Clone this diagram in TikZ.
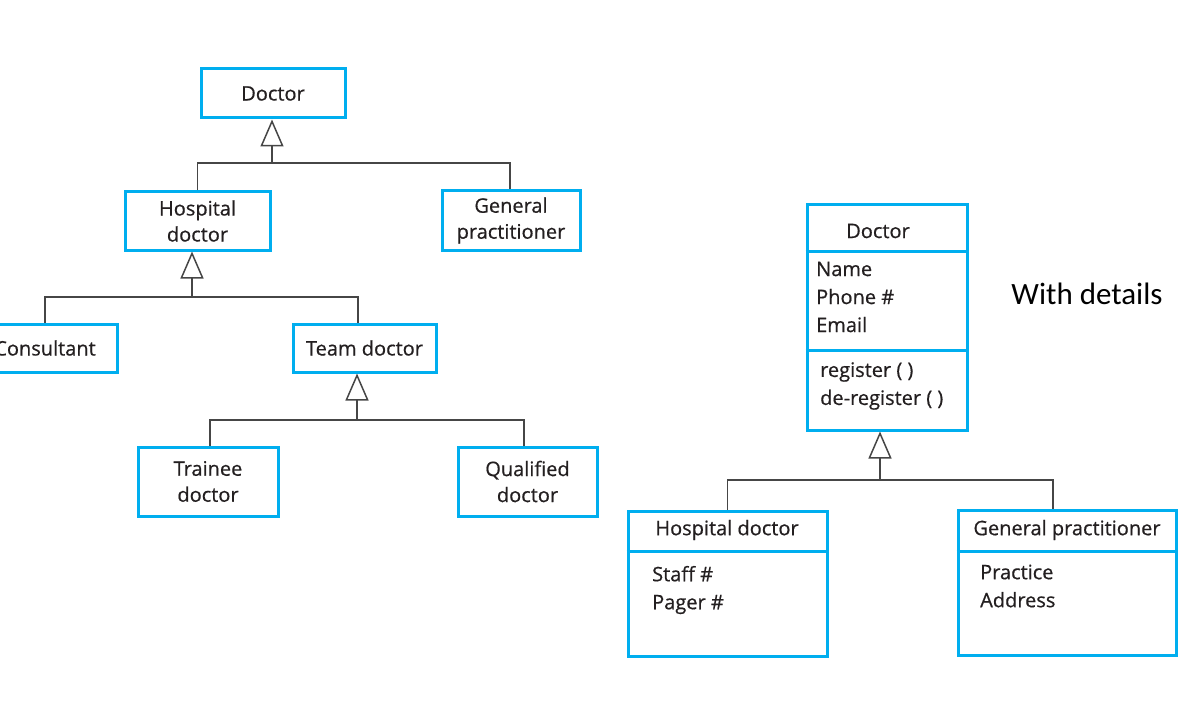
\documentclass[tikz,border=0pt]{standalone}
\usepackage{fontspec}
\setmainfont{Open Sans}[FakeBold=0.6]
\newfontfamily\calfont{Carlito}
\usetikzlibrary{arrows.meta}
\definecolor{boxblue}{RGB}{0,174,239}
\definecolor{linegray}{RGB}{70,70,70}
\definecolor{txt}{RGB}{35,31,32}
\begin{document}
\begin{tikzpicture}[x=1pt,y=-1pt,
  cls/.style={draw=boxblue,line width=3pt,rectangle,inner sep=0pt,text=txt,align=center,
    font=\fontsize{20}{26}\selectfont},
  lbl/.style={inner sep=0pt,text=txt,font=\fontsize{20}{28}\selectfont,align=left},
  conn/.style={draw=linegray,line width=1.5pt},
  gen/.style={conn,-{Triangle[open,length=27pt,width=23pt,line width=1.5pt]}},
  divider/.style={draw=boxblue,line width=3pt}]
\useasboundingbox (0,0) rectangle (1199,714);
% ---------- left tree ----------
\node[cls,minimum width=144pt,minimum height=49pt] (doc1) at (273,93.5) {Doctor};
\node[cls,minimum width=145pt,minimum height=58pt] (hosp1) at (197.5,221) {Hospital\\doctor};
\node[cls,minimum width=138pt,minimum height=59pt] (gp1) at (511,220.5) {General\\practitioner};
\node[cls,minimum width=144pt,minimum height=48pt] (cons) at (45,348) {Consultant};
\node[cls,minimum width=143pt,minimum height=48pt] (team) at (364.5,348) {Team doctor};
\node[cls,minimum width=140pt,minimum height=69pt] (trainee) at (208,481.5) {Trainee\\doctor};
\node[cls,minimum width=139pt,minimum height=69pt] (qual) at (527.5,481.5) {Qualified\\doctor};
\coordinate (j1) at (272,163);
\coordinate (j2) at (192,297);
\coordinate (j3) at (357,420);
\draw[conn] (hosp1.north) |- (j1) -| ([xshift=-1pt]gp1.north);
\draw[gen] (j1) -- (j1 |- doc1.south);
\draw[conn] (cons.north) |- (j2) -| ([xshift=-6.5pt]team.north);
\draw[gen] (j2) -- (j2 |- hosp1.south);
\draw[conn] ([xshift=2pt]trainee.north) |- (j3) -| ([xshift=-3.5pt]qual.north);
\draw[gen] (j3) -- (j3 |- team.south);
% ---------- right tree ----------
\node[cls,minimum width=160pt,minimum height=225pt] (doc2) at (887,317.5) {};
\draw[divider] (doc2.west |- 0,251) -- (doc2.east |- 0,251);
\draw[divider] (doc2.west |- 0,350) -- (doc2.east |- 0,350);
\node[lbl] (doc2t) at (878,231) {Doctor};
\node[lbl,anchor=west] (doc2a) at (816,297) {Name\\Phone \#\\Email};
\node[lbl,anchor=west] (doc2m) at (820,386) {register ( )\\de-register ( )};
\node[cls,minimum width=199pt,minimum height=145pt] (hosp2) at (727.5,583.5) {};
\draw[divider] (hosp2.west |- 0,551) -- (hosp2.east |- 0,551);
\node[lbl] (hosp2t) at (727,530) {Hospital doctor};
\node[lbl,anchor=west] (hosp2a) at (652,590) {Staff \#\\Pager \#};
\node[cls,minimum width=218pt,minimum height=145pt] (gp2) at (1067,582.5) {};
\draw[divider] (gp2.west |- 0,551) -- (gp2.east |- 0,551);
\node[lbl] (gp2t) at (1067,530) {General practitioner};
\node[lbl,anchor=west] (gp2a) at (980,586) {Practice\\Address};
\coordinate (j4) at (880,480);
\draw[conn] (hosp2.north) |- (j4) -| ([xshift=-14pt]gp2.north);
\draw[gen] (j4) -- (j4 |- doc2.south);
\node[inner sep=0pt,text=black,font=\calfont\fontsize{31}{36}\selectfont] (wd) at (1087,294) {With details};
\end{tikzpicture}
\end{document}
